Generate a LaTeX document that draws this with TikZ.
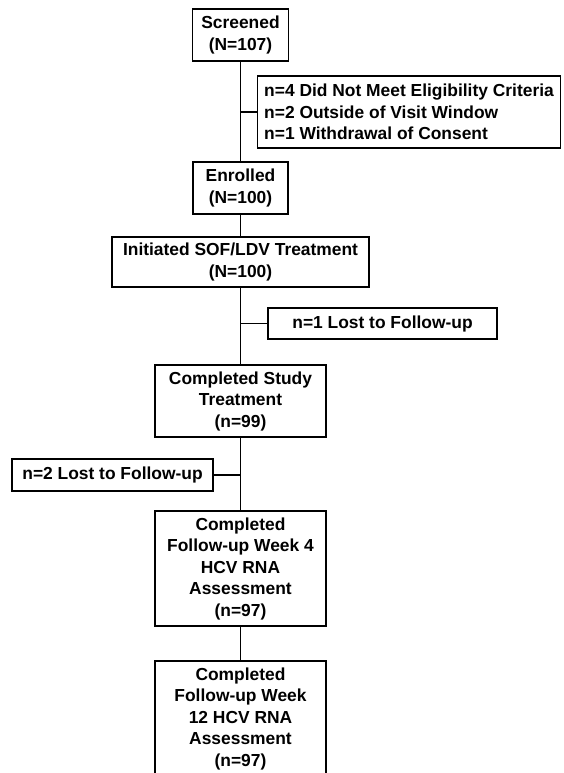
\documentclass[tikz,border=0pt]{standalone}
\usepackage{fontspec}
\setmainfont{Liberation Sans}
\usetikzlibrary{positioning}

\tikzset{
  flowbox/.style={draw, line width=1.2pt, fill=white, align=center, inner sep=2pt,
    font=\fontsize{17.4}{21.5}\selectfont\bfseries},
  sidebox/.style={flowbox, align=left, inner sep=7pt},
  trunk/.style={line width=1.2pt}
}

\begin{document}
\begin{tikzpicture}[x=1pt, y=-1pt]
  % Page frame (draw FIRST)
  \useasboundingbox (0,0) rectangle (563,773);
  \clip (0,0) rectangle (563,773);

  % Main flow boxes
  \node[flowbox, minimum width=96pt, minimum height=52pt] (screened) at (240.5,35) {Screened\\(N=107)};
  \node[flowbox, minimum width=95pt, minimum height=52pt] (enrolled) at (240.5,188) {Enrolled\\(N=100)};
  \node[flowbox, minimum width=257pt, minimum height=50pt] (initiated) at (240.5,262) {Initiated SOF/LDV Treatment\\(N=100)};
  \node[flowbox, minimum width=171pt, minimum height=72pt] (completed) at (240.5,401) {Completed Study\\Treatment\\(n=99)};
  \node[flowbox, minimum width=171pt, minimum height=115pt] (week4) at (240.5,568.5) {Completed\\Follow-up Week 4\\HCV RNA\\Assessment\\(n=97)};
  \node[flowbox, minimum width=171pt, minimum height=115pt] (week12) at (240.5,718.5) {Completed\\Follow-up Week\\12 HCV RNA\\Assessment\\(n=97)};

  % Side boxes
  \node[sidebox, minimum width=302pt, minimum height=72pt] (excluded) at (409,112) {n=4 Did Not Meet Eligibility Criteria\\n=2 Outside of Visit Window\\n=1 Withdrawal of Consent};
  \node[flowbox, minimum width=229pt, minimum height=31pt] (lost1) at (382.5,323.5) {n=1 Lost to Follow-up};
  \node[flowbox, minimum width=201pt, minimum height=32pt] (lost2) at (112.5,475) {n=2 Lost to Follow-up};

  % Branch points on the trunk
  \coordinate (b1) at (screened.south |- excluded.west);
  \coordinate (b2) at (initiated.south |- lost1.west);
  \coordinate (b3) at (completed.south |- lost2.east);

  % Trunk
  \draw[trunk] (screened) -- (b1) -- (enrolled);
  \draw[trunk] (enrolled) -- (initiated);
  \draw[trunk] (initiated) -- (b2) -- (completed);
  \draw[trunk] (completed) -- (b3) -- (week4);
  \draw[trunk] (week4) -- (week12);

  % Branches
  \draw[trunk] (b1) -- (excluded.west);
  \draw[trunk] (b2) -- (lost1.west);
  \draw[trunk] (b3) -- (lost2.east);

\end{tikzpicture}
\end{document}
